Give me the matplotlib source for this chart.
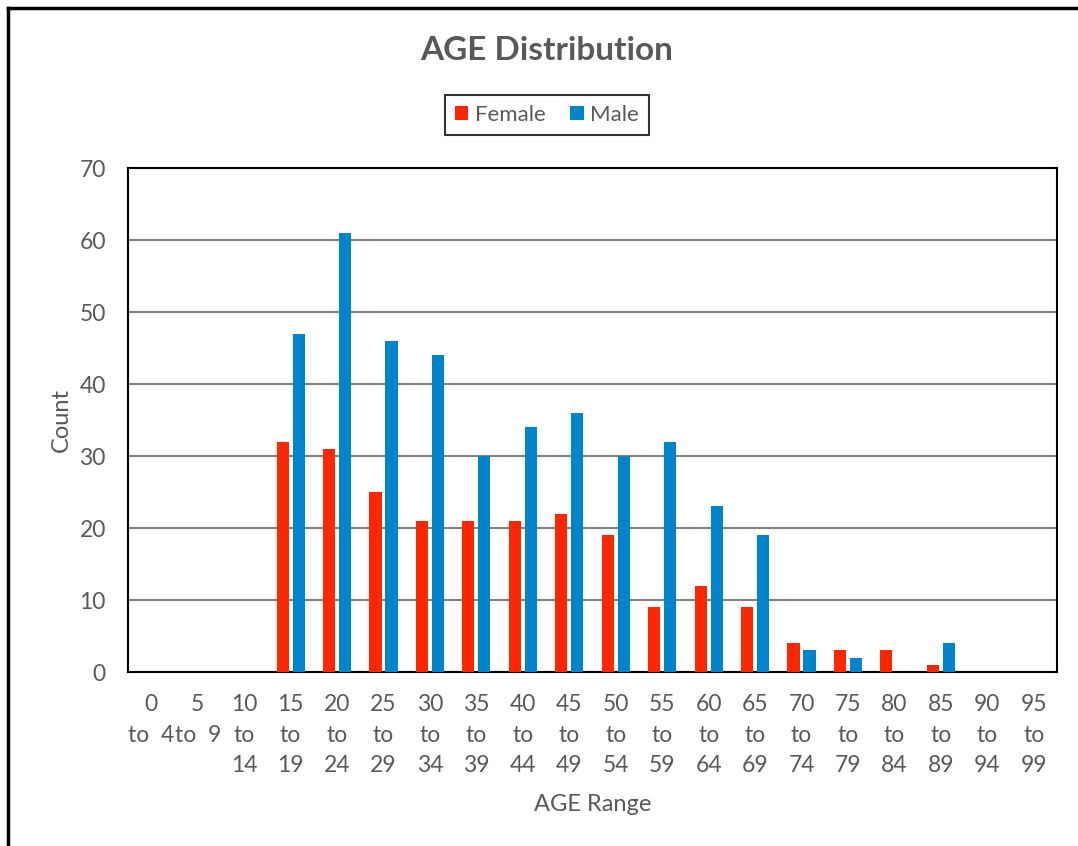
import matplotlib.pyplot as plt
from matplotlib.lines import Line2D
import numpy as np

plt.rcParams['font.family'] = ['Lato', 'DejaVu Sans']

# age range labels (wrapped like the original)
age_labels = ["0\nto  4", "5\nto  9", "10\nto\n14", "15\nto\n19", "20\nto\n24",
              "25\nto\n29", "30\nto\n34", "35\nto\n39", "40\nto\n44", "45\nto\n49",
              "50\nto\n54", "55\nto\n59", "60\nto\n64", "65\nto\n69", "70\nto\n74",
              "75\nto\n79", "80\nto\n84", "85\nto\n89", "90\nto\n94", "95\nto\n99"]
female = [0, 0, 0, 32, 31, 25, 21, 21, 21, 22, 19, 9, 12, 9, 4, 3, 3, 1, 0, 0]
male = [0, 0, 0, 47, 61, 46, 44, 30, 34, 36, 30, 32, 23, 19, 3, 2, 0, 4, 0, 0]

txt = '#595959'
red = '#FF2700'
blue = '#0084CC'

W, H = 1078, 846
fig = plt.figure(figsize=(W / 100, H / 100), dpi=100)
ax = fig.add_axes([128 / W, 1 - 672 / H, (1057 - 128) / W, (672 - 168) / H])

x = np.arange(len(age_labels))
bw = 0.26
off = 0.172
ax.bar(x - off, female, bw, color=red, label='Female', zorder=3)
ax.bar(x + off, male, bw, color=blue, label='Male', zorder=3)

ax.set_xlim(-0.5, len(age_labels) - 0.5)
ax.set_ylim(0, 70)
ax.set_yticks(np.arange(0, 71, 10))
ax.set_xticks(x)
ax.set_xticklabels(age_labels, linespacing=1.55)
ax.tick_params(axis='both', length=0, colors=txt, labelsize=16.5)
ax.tick_params(axis='x', pad=16)
ax.tick_params(axis='y', pad=16)
ax.yaxis.grid(True, color='#808080', linewidth=1.5, zorder=0)
for s in ax.spines.values():
    s.set_color('black')
    s.set_linewidth(1.5)

ax.set_ylabel('Count', color=txt, fontsize=17, labelpad=5)
ax.set_xlabel('AGE Range', color=txt, fontsize=17, labelpad=13)

fig.text(547 / W, 1 - 50 / H, 'AGE Distribution', ha='center', va='center',
         fontsize=24, fontweight='bold', color=txt)

leg = fig.legend(loc='center', bbox_to_anchor=(547 / W, 1 - 115 / H), ncol=2,
                 fancybox=False, edgecolor='black', fontsize=16,
                 handlelength=0.6, handleheight=0.6, handletextpad=0.3,
                 columnspacing=1.1, borderpad=0.45)
leg.get_frame().set_linewidth(1.5)
for t in leg.get_texts():
    t.set_color(txt)

# outer chart border (top and left visible)
fig.add_artist(Line2D([8 / W, 1], [1 - 8 / H, 1 - 8 / H], color='black', lw=2.5))
fig.add_artist(Line2D([8 / W, 8 / W], [0, 1 - 8 / H], color='black', lw=2.5))

fig.savefig('out.png', dpi=100)
